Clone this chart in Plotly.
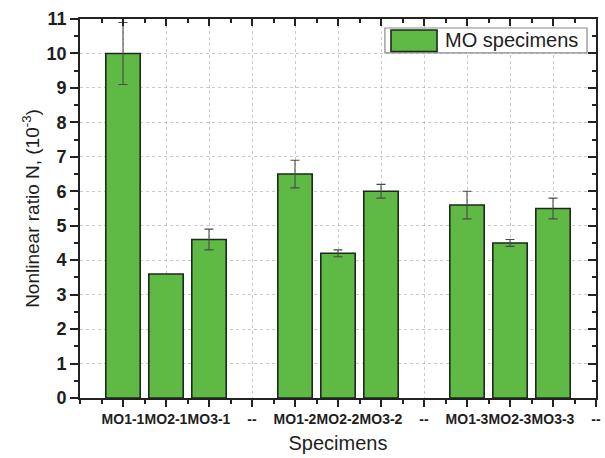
import plotly.graph_objects as go

labels = ["MO1-1", "MO2-1", "MO3-1", "--", "MO1-2", "MO2-2", "MO3-2", "--",
          "MO1-3", "MO2-3", "MO3-3", "--"]
values = [10.0, 3.6, 4.6, None, 6.5, 4.2, 6.0, None, 5.6, 4.5, 5.5, None]
errors = [0.9, 0.0, 0.3, None, 0.4, 0.1, 0.2, None, 0.4, 0.1, 0.3, None]
y_ticks = list(range(0, 12))
series_name = "MO specimens"

positions = list(range(1, len(labels) + 1))

FONT = "Liberation Sans, Arial, sans-serif"
TXT = "#1e1e1e"
GREEN = "#5eba45"
EDGE = "#1c2a1c"
GRID = "rgba(150,150,150,0.5)"

fig = go.Figure()
fig.add_trace(go.Bar(
    x=positions, y=values, name=series_name, width=0.8,
    marker=dict(color=GREEN, line=dict(color=EDGE, width=1.6)),
    error_y=dict(type="data", array=errors, visible=True,
                 color="#4a4a4a", thickness=1.1, width=4.5),
    showlegend=False,
))
# dummy trace so the mirrored top/right axes are drawn
fig.add_trace(go.Scatter(x=[None], y=[None], xaxis="x2", yaxis="y2",
                         showlegend=False, hoverinfo="skip"))

xr = [0, len(labels)]
yr = [0, 11]

fig.update_layout(
    width=605, height=458,
    margin=dict(l=80, r=9, t=19, b=59.5),
    paper_bgcolor="white", plot_bgcolor="white",
    font=dict(family=FONT, color=TXT),
    xaxis=dict(
        range=xr, tickmode="array", tickvals=positions, ticktext=labels,
        tickangle=0, automargin=False,
        ticks="outside", ticklen=7, tickwidth=1.5, tickcolor="#222",
        minor=dict(dtick=0.5, tick0=0.5, ticks="outside", ticklen=4,
                   tickwidth=1.5, tickcolor="#222", showgrid=False),
        showline=True, linecolor="#222", linewidth=1.8,
        showgrid=True, gridcolor=GRID, griddash="dot", gridwidth=1,
        tickfont=dict(size=14, color=TXT, weight="bold"),
        title=dict(text="Specimens", font=dict(size=20, color=TXT), standoff=10),
        zeroline=False,
    ),
    yaxis=dict(
        range=yr, tickmode="array", tickvals=y_ticks, automargin=False,
        ticks="outside", ticklen=8, tickwidth=1.5, tickcolor="#222",
        minor=dict(dtick=0.5, tick0=0.5, ticks="outside", ticklen=4,
                   tickwidth=1.5, tickcolor="#222", showgrid=False),
        showline=True, linecolor="#222", linewidth=1.8,
        showgrid=True, gridcolor=GRID, griddash="dot", gridwidth=1,
        tickfont=dict(size=18, color=TXT, weight="bold"),
        title=dict(text="Nonlinear ratio N, (10<sup>-3</sup>)",
                   font=dict(size=19, color=TXT), standoff=2),
        zeroline=False,
    ),
    xaxis2=dict(
        range=xr, overlaying="x", side="top", anchor="y",
        tickmode="array", tickvals=positions, showticklabels=False,
        ticks="inside", ticklen=7, tickwidth=1.5, tickcolor="#222",
        minor=dict(dtick=0.5, tick0=0.5, ticks="inside", ticklen=4,
                   tickwidth=1.5, tickcolor="#222"),
        showline=True, linecolor="#222", linewidth=1.8,
        showgrid=False, zeroline=False,
    ),
    yaxis2=dict(
        range=yr, overlaying="y", side="right", anchor="x",
        tickmode="array", tickvals=y_ticks, showticklabels=False,
        ticks="inside", ticklen=8, tickwidth=1.5, tickcolor="#222",
        minor=dict(dtick=0.5, tick0=0.5, ticks="inside", ticklen=4,
                   tickwidth=1.5, tickcolor="#222"),
        showline=True, linecolor="#222", linewidth=1.8,
        showgrid=False, zeroline=False,
    ),
    shapes=[
        dict(type="rect", xref="paper", yref="paper",
             x0=0.591, x1=0.9826, y0=0.9104, y1=0.9763,
             line=dict(color="#8a8a8a", width=1.2), fillcolor="white", layer="above"),
        dict(type="rect", xref="paper", yref="paper",
             x0=0.6027, x1=0.6919, y0=0.9144, y1=0.971,
             line=dict(color=EDGE, width=1.6), fillcolor=GREEN, layer="above"),
    ],
    annotations=[
        dict(text=series_name, xref="paper", yref="paper", x=0.7035, y=0.9433,
             xanchor="left", yanchor="middle", showarrow=False,
             font=dict(size=20, color=TXT)),
    ],
)

fig.write_html("out.html")
